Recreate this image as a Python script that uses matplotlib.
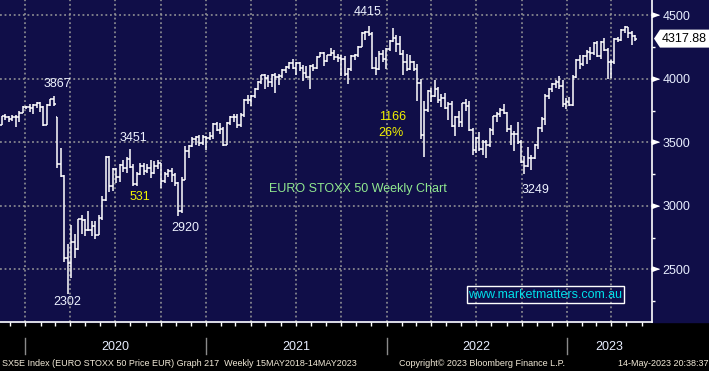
import matplotlib
matplotlib.use("Agg")
import matplotlib.pyplot as plt
import matplotlib.dates as mdates
import matplotlib.transforms as mtransforms
from matplotlib.patches import Rectangle, Polygon
from matplotlib.lines import Line2D
import pandas as pd

# weekly OHLC of SX5E, weeks ending 8-Nov-2019 .. 12-May-2023
opens = [
    3640, 3705, 3700, 3685, 3703, 3699, 3731, 3776,
    # 2020
    3782, 3773, 3795, 3808, 3779, 3640, 3798, 3840, 3700, 3329, 3232, 2586, 2549,
    2716, 2663, 2893, 2888, 2809, 2810, 2838, 2770, 2905, 3050, 3384, 3153, 3289,
    3224, 3320, 3297, 3371, 3309, 3174, 3253, 3315, 3273, 3302, 3260, 3317, 3338,
    3194, 3248, 3273, 3245, 3183, 2958, 3205, 3432, 3468, 3527, 3540, 3492, 3539,
    # 2021
    3532, 3553, 3645, 3600, 3602, 3481, 3655, 3697, 3704, 3636, 3713, 3833, 3837,
    3867, 3920, 3978, 4032, 4007, 3975, 4035, 4017, 4026, 4071, 4094, 4127, 4083,
    4122, 4084, 4049, 4013, 4102, 4089, 4175, 4202, 4139, 4186, 4202, 4170, 4164,
    4158, 4036, 4078, 4182, 4189, 4250, 4363, 4370, 4356, 4089, 4080, 4199, 4161, 4233,
    # 2022
    4298, 4324, 4272, 4199, 4136, 4078, 4134, 4078, 3971, 3556, 3753, 3902,
    3868, 3918, 3835, 3848, 3773, 3803, 3630, 3703, 3657, 3808, 3783, 3599, 3439,
    3533, 3448, 3501, 3477, 3596, 3708, 3725, 3757, 3730, 3604, 3570, 3570, 3500, 3349,
    3318, 3375, 3380, 3477, 3613, 3688, 3868, 3924, 3963, 3977, 3942, 3804, 3818,
    # 2023
    3794, 4017, 4151, 4120, 4178, 4211, 4202, 4284, 4179, 4295, 4229, 4130, 4130,
    4315, 4309, 4389, 4407, 4359, 4340,
]
highs = [
    3710, 3720, 3710, 3712, 3715, 3750, 3790, 3786,
    # 2020
    3800, 3800, 3815, 3820, 3785, 3800, 3845, 3867, 3700, 3455, 3240, 2700, 2850,
    2780, 2900, 2925, 2900, 2960, 2880, 2880, 2930, 3080, 3390, 3390, 3300, 3300,
    3330, 3360, 3385, 3451, 3330, 3270, 3340, 3340, 3330, 3360, 3350, 3360, 3340,
    3270, 3290, 3295, 3260, 3190, 3225, 3470, 3480, 3540, 3550, 3560, 3560, 3550,
    # 2021
    3580, 3650, 3660, 3650, 3620, 3660, 3710, 3720, 3720, 3730, 3840, 3870, 3870,
    3930, 3985, 4035, 4040, 4030, 4040, 4050, 4040, 4080, 4100, 4130, 4160, 4130,
    4130, 4110, 4100, 4110, 4120, 4180, 4210, 4210, 4190, 4245, 4230, 4200, 4190,
    4180, 4090, 4190, 4200, 4260, 4370, 4380, 4415, 4370, 4170, 4220, 4230, 4240, 4310,
    # 2022
    4403, 4350, 4340, 4230, 4200, 4190, 4140, 4120, 4000, 3830, 3910, 3930,
    3990, 3940, 3880, 3890, 3820, 3830, 3710, 3750, 3810, 3840, 3830, 3610, 3540,
    3580, 3520, 3520, 3610, 3710, 3740, 3770, 3800, 3740, 3640, 3590, 3660, 3520, 3390,
    3460, 3400, 3490, 3620, 3700, 3880, 3930, 3970, 3990, 4020, 3990, 3850, 3860,
    # 2023
    4030, 4160, 4190, 4185, 4230, 4250, 4290, 4300, 4300, 4320, 4240, 4150, 4320,
    4330, 4395, 4420, 4410, 4380, 4350,
]
lows = [
    3640, 3680, 3660, 3670, 3620, 3660, 3730, 3760,
    # 2020
    3740, 3720, 3770, 3740, 3630, 3640, 3790, 3790, 3300, 3230, 2560, 2302, 2430,
    2590, 2650, 2780, 2760, 2800, 2760, 2740, 2770, 2890, 3040, 3110, 3120, 3180,
    3190, 3270, 3260, 3300, 3160, 3160, 3240, 3240, 3260, 3220, 3250, 3290, 3140,
    3180, 3230, 3190, 3160, 2920, 2940, 3200, 3380, 3460, 3480, 3470, 3480, 3440,
    # 2021
    3520, 3530, 3590, 3570, 3470, 3480, 3640, 3660, 3610, 3620, 3700, 3800, 3790,
    3850, 3915, 3960, 3920, 3940, 3940, 3890, 3950, 4010, 4050, 4080, 4080, 4030,
    4060, 3980, 4010, 3920, 4060, 4080, 4170, 4100, 4130, 4180, 4150, 4130, 4020,
    4020, 3960, 4060, 4150, 4170, 4250, 4310, 4340, 4080, 4030, 4070, 4130, 4080, 4220,
    # 2022
    4290, 4210, 4190, 4030, 4060, 4070, 4060, 3830, 3530, 3387, 3740, 3820,
    3860, 3810, 3780, 3760, 3680, 3620, 3550, 3620, 3620, 3750, 3590, 3400, 3420,
    3430, 3400, 3380, 3460, 3560, 3660, 3700, 3720, 3580, 3480, 3430, 3490, 3340, 3249,
    3310, 3280, 3370, 3450, 3580, 3640, 3840, 3900, 3930, 3920, 3780, 3760, 3790,
    # 2023
    3790, 4010, 4080, 4100, 4120, 4150, 4190, 4170, 4160, 4220, 4000, 4010, 4120,
    4290, 4300, 4360, 4320, 4270, 4300,
]
closes = [
    3705, 3700, 3682, 3703, 3699, 3731, 3776, 3782,
    # 2020
    3773, 3795, 3808, 3779, 3640, 3798, 3840, 3800, 3329, 3232, 2586, 2549, 2716,
    2663, 2893, 2888, 2809, 2810, 2838, 2770, 2905, 3050, 3384, 3153, 3289, 3224,
    3320, 3297, 3371, 3309, 3174, 3253, 3315, 3273, 3302, 3260, 3317, 3338, 3194,
    3248, 3273, 3245, 3183, 2958, 3205, 3432, 3468, 3527, 3540, 3492, 3539, 3532,
    # 2021
    3553, 3645, 3600, 3602, 3481, 3655, 3697, 3704, 3636, 3713, 3833, 3837, 3867,
    3920, 3978, 4032, 4007, 3975, 4035, 4017, 4026, 4071, 4094, 4127, 4083, 4122,
    4084, 4049, 4013, 4102, 4089, 4175, 4202, 4139, 4186, 4202, 4170, 4164, 4158,
    4036, 4078, 4182, 4189, 4250, 4363, 4370, 4356, 4089, 4080, 4199, 4161, 4233, 4298,
    # 2022
    4324, 4272, 4199, 4136, 4078, 4134, 4078, 3971, 3556, 3753, 3902, 3868,
    3918, 3835, 3848, 3773, 3803, 3630, 3703, 3657, 3808, 3783, 3599, 3439, 3533,
    3448, 3501, 3477, 3596, 3708, 3725, 3757, 3730, 3604, 3570, 3570, 3500, 3349, 3318,
    3375, 3380, 3477, 3613, 3688, 3868, 3924, 3963, 3977, 3942, 3804, 3818, 3794,
    # 2023
    4017, 4151, 4120, 4178, 4211, 4202, 4284, 4179, 4295, 4229, 4130, 4130, 4315,
    4309, 4389, 4407, 4359, 4340, 4318,
]

last_price = 4317.88
y_ticks = [2500, 3000, 3500, 4000, 4500]
y_minor = [2250, 2750, 3250, 3750, 4250]
years = [2020, 2021, 2022, 2023]

# (text, x px, y px from top, colour)
notes = [
    ('3867', 57, 84, '#eef2ff'),
    ('3451', 133, 138, '#eef2ff'),
    ('531', 140, 197, '#f2f200'),
    ('2302', 67, 302, '#eef2ff'),
    ('2920', 185, 228, '#eef2ff'),
    ('4415', 368, 12, '#eef2ff'),
    ('1166', 393, 117, '#f2f200'),
    ('26%', 391, 133, '#f2f200'),
    ('3249', 535, 190, '#eef2ff'),
    ('EURO STOXX 50 Weekly Chart', 358, 189, '#90e890'),
]

W, H = 709, 371
navy = '#100e48'
plt.rcParams['font.family'] = ['Liberation Sans', 'DejaVu Sans']

week_end = pd.date_range(end='2023-05-12', periods=len(closes), freq='W-FRI')
xd = mdates.date2num(week_end + pd.Timedelta(days=7))
half = 3.5

fig = plt.figure(figsize=(W / 100, H / 100), dpi=100, facecolor='black')
fig.patches.append(Rectangle((0, 49 / H), 1, 322 / H, transform=fig.transFigure,
                             color=navy, zorder=-5))
ax = fig.add_axes([0, 49 / H, 652 / W, 322 / H])
ax.set_facecolor(navy)
ax.set_xlim(mdates.datestr2num('2019-11-11'), mdates.datestr2num('2023-06-22'))
ax.set_ylim(2085, 4622)

ax.vlines(xd, lows, highs, colors='white', lw=1.1, zorder=3)
ax.hlines(opens, xd - half, xd, colors='white', lw=1.1, zorder=3)
ax.hlines(closes, xd, xd + half, colors='white', lw=1.1, zorder=3)

ax.xaxis.set_major_locator(mdates.MonthLocator(bymonth=[1, 4, 7, 10]))
ax.xaxis.set_minor_locator(mdates.MonthLocator())
ax.set_axisbelow(True)
ax.grid(True, which='major', color='#9a9a9a', ls=(0, (1.2, 1.8)), lw=1.1)
ax.tick_params(axis='x', which='both', direction='out', length=3, width=1,
               color='white', labelbottom=False)

ax.yaxis.tick_right()
ax.set_yticks(y_ticks)
ax.set_yticks(y_minor, minor=True)
ax.set_yticklabels([str(v) for v in y_ticks])
ax.tick_params(axis='y', which='major', length=0, pad=7.5, labelsize=9,
               labelcolor='#e8eeff')
ax.tick_params(axis='y', which='minor', length=2.5, width=1, color='white')

for s in ['top', 'left']:
    ax.spines[s].set_visible(False)
for s in ['right', 'bottom']:
    ax.spines[s].set_color('white')
    ax.spines[s].set_linewidth(1.2)

tri = [(0, -0.35), (0, 0.35), (1, 0)]
blend = mtransforms.blended_transform_factory(ax.transAxes, ax.transData)
ax.plot([1.0] * len(y_ticks), y_ticks, transform=blend, ls='none', marker=tri,
        ms=10, color='white', clip_on=False, zorder=5)

# last price tag
yp = ax.transData.transform((ax.get_xlim()[0], last_price))[1]
tag = Polygon([(654, yp), (660, yp + 9), (712, yp + 9), (712, yp - 9), (660, yp - 9)],
              closed=True, fc='white', ec='none', zorder=5,
              transform=mtransforms.IdentityTransform())
fig.patches.append(tag)
fig.text(662 / W, yp / H, f'{last_price:.2f}', color='black', fontsize=9,
         ha='left', va='center', zorder=6)

for txt, px, py, col in notes:
    fig.text(px / W, 1 - py / H, txt, color=col, fontsize=9, ha='center', va='center')

# watermark
fig.patches.append(Rectangle((467 / W, 1 - 303 / H), 157 / W, 17 / H, fill=False,
                             ec='white', lw=1, zorder=5, transform=fig.transFigure))
fig.text(545.5 / W, 1 - 294.5 / H, 'www.marketmatters.com.au', color='#00e0ea',
         fontsize=9, ha='center', va='center')

# year labels and separators
x_right = ax.transData.transform((ax.get_xlim()[1], 0))[0]
for i, yr in enumerate(years):
    x0 = ax.transData.transform((mdates.datestr2num(f'{yr}-01-01'), 0))[0]
    if i + 1 < len(years):
        x1 = ax.transData.transform((mdates.datestr2num(f'{yr + 1}-01-01'), 0))[0]
    else:
        x1 = x_right
    fig.lines.append(Line2D([x0 / W, x0 / W], [1 - 338 / H, 1 - 354 / H], color='#8a8a8a',
                            lw=1, transform=fig.transFigure))
    fig.text((x0 + x1) / 2 / W, 1 - 347 / H, str(yr), color='#e8eeff', fontsize=9,
             ha='center', va='center')

foot = '#f2ead8'
fig.text(2 / W, 1 - 363 / H,
         'SX5E Index (EURO STOXX 50 Price EUR) Graph 217  Weekly 15MAY2018-14MAY2023',
         color=foot, fontsize=6.5, ha='left', va='center')
fig.text(399 / W, 1 - 363 / H, 'Copyright\u00a9 2023 Bloomberg Finance L.P.',
         color=foot, fontsize=6.5, ha='left', va='center')
fig.text(708 / W, 1 - 363 / H, '14-May-2023 20:38:37', color=foot, fontsize=6.5,
         ha='right', va='center')

fig.savefig('out.png', dpi=100, facecolor='black')
